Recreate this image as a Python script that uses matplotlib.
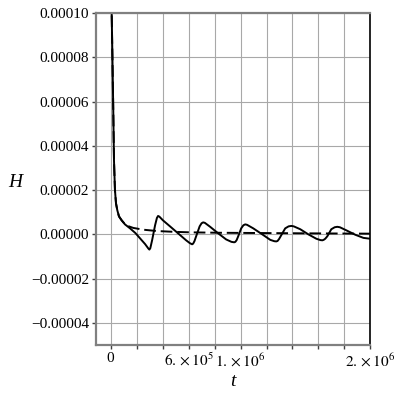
import numpy as np
import matplotlib.pyplot as plt

# t in units of 1e5, H in units of 1e-6
t_solid = [0.06, 0.077, 0.139, 0.20, 0.255, 0.33, 0.41, 0.51, 0.64, 0.85, 1.10, 1.49, 1.90, 2.26, 2.65, 2.90, 2.98, 3.05,
           3.19, 3.42, 3.56, 3.65, 3.75, 4.03, 4.57, 5.19, 5.81, 6.10, 6.27, 6.35,
           6.45, 6.58, 6.85, 7.00, 7.12, 7.25, 7.66, 8.28, 8.89, 9.30, 9.51, 9.60,
           9.70, 9.82, 10.05, 10.22, 10.36, 10.50, 10.98, 11.67, 12.29, 12.60, 12.75, 12.85,
           12.97, 13.13, 13.44, 13.70, 13.91, 14.10, 14.60, 15.22, 15.84, 16.15, 16.30, 16.40,
           16.52, 16.68, 16.99, 17.25, 17.45, 17.65, 18.15, 18.84, 19.46, 20.0]
H_solid = [125, 100, 78.7, 56, 33.5, 20, 14, 10.9, 8.1, 6.3, 4.5, 2.7, 0.6, -1.8, -4.4, -6.4, -6.9, -6.3,
           -2.7, 4.1, 7.4, 8.3, 8.0, 6.3, 3.6, 0.45, -2.7, -4.0, -4.5, -4.2,
           -3.1, -0.9, 3.6, 5.0, 5.4, 5.2, 3.4, 0.45, -2.3, -3.4, -3.6, -3.4,
           -2.6, -0.9, 2.7, 4.1, 4.5, 4.3, 2.7, 0.0, -2.5, -3.1, -3.2, -3.0,
           -2.1, -0.45, 2.7, 3.6, 3.8, 3.6, 2.3, 0.0, -2.0, -2.6, -2.7, -2.5,
           -2.0, -0.9, 2.3, 3.2, 3.4, 3.2, 1.8, -0.2, -1.6, -2.0]

t_dashed = [0.06, 0.077, 0.139, 0.20, 0.255, 0.33, 0.41, 0.51, 0.64, 0.85, 1.10, 1.40, 1.74, 2.50, 3.55, 4.80, 6.12, 8.50, 11.26, 15.0, 20.0]
H_dashed = [125, 100, 78.7, 56, 33.5, 20, 14, 10.9, 8.1, 6.3, 4.6, 3.6, 2.9, 2.1, 1.5, 1.15, 0.9, 0.7, 0.6, 0.45, 0.3]

x_ticks = [0, 2e5, 4e5, 6e5, 8e5, 1e6, 1.2e6, 1.4e6, 1.6e6, 1.8e6, 2e6]
x_labels = ['0', '', '', r'$6.\times10^{5}$', '', r'$1.\times10^{6}$', '', '', '', '', r'$2.\times10^{6}$']
y_ticks = [-0.00004, -0.00002, 0.0, 0.00002, 0.00004, 0.00006, 0.00008, 0.00010]
y_labels = ['\u22120.00004', '\u22120.00002', '0.00000', '0.00002', '0.00004', '0.00006', '0.00008', '0.00010']

plt.rcParams['font.family'] = ['Liberation Serif', 'DejaVu Serif']
plt.rcParams['mathtext.fontset'] = 'stix'

fig = plt.figure(figsize=(4, 4), dpi=100)
ax = fig.add_axes([0.24, 0.1375, 0.686, 0.83])

ts = np.array(t_solid) * 1e5
hs = np.array(H_solid) * 1e-6
td = np.array(t_dashed) * 1e5
hd = np.array(H_dashed) * 1e-6

ax.plot(ts, hs, color='black', lw=1.4, solid_joinstyle='round')
ax.plot(td, hd, color='black', lw=1.4, linestyle=(0, (6, 2.5)))

ax.set_xlim(-1.13e5, 2.0e6)
ax.set_ylim(-0.00005, 0.00010)
ax.set_xticks(x_ticks)
ax.set_xticklabels(x_labels, fontsize=11)
ax.set_yticks(y_ticks)
ax.set_yticklabels(y_labels, fontsize=11)
ax.grid(True, color='#a8a8a8', lw=0.8)
ax.set_axisbelow(True)
ax.tick_params(length=3, width=1, color='#404040', pad=2)

for side in ['left', 'bottom', 'top']:
    ax.spines[side].set_color('#808080')
    ax.spines[side].set_linewidth(1.6)
ax.spines['right'].set_color('black')
ax.spines['right'].set_linewidth(1.2)

fig.text(15 / 400, 1 - 182 / 400, 'H', fontsize=14, style='italic', ha='center', va='center')
fig.text(233 / 400, 1 - 382 / 400, 't', fontsize=14, style='italic', ha='center', va='center')

fig.savefig('out.png', dpi=100)
plt.close()
